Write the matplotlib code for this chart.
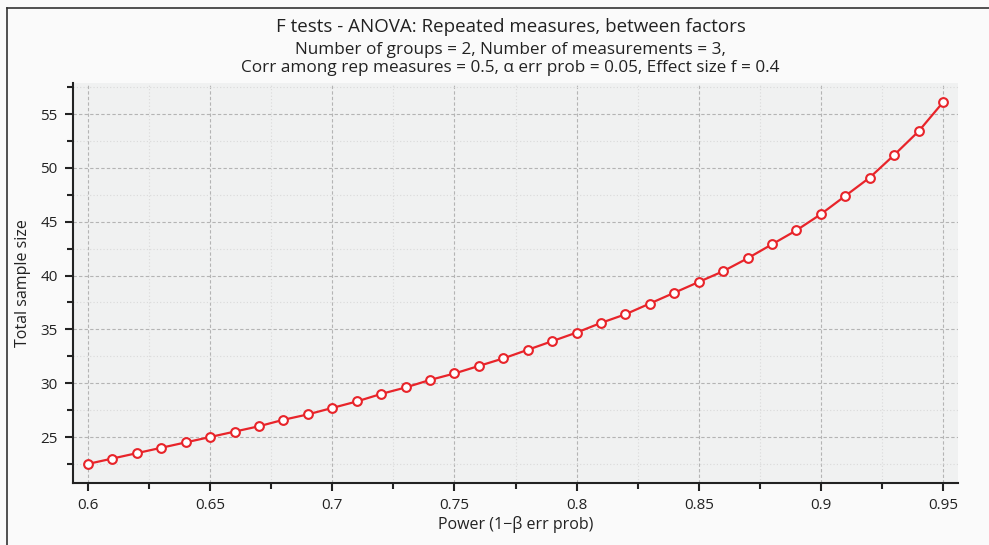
import matplotlib
matplotlib.use("Agg")
import matplotlib.pyplot as plt
from matplotlib.ticker import MultipleLocator
from matplotlib.lines import Line2D

power = [0.60, 0.61, 0.62, 0.63, 0.64, 0.65, 0.66, 0.67, 0.68, 0.69,
         0.70, 0.71, 0.72, 0.73, 0.74, 0.75, 0.76, 0.77, 0.78, 0.79,
         0.80, 0.81, 0.82, 0.83, 0.84, 0.85, 0.86, 0.87, 0.88, 0.89,
         0.90, 0.91, 0.92, 0.93, 0.94, 0.95]
total_n = [22.5, 23.0, 23.5, 24.0, 24.5, 25.0, 25.5, 26.0, 26.6, 27.1,
           27.7, 28.3, 29.0, 29.6, 30.3, 30.9, 31.6, 32.3, 33.1, 33.9,
           34.7, 35.6, 36.4, 37.4, 38.4, 39.4, 40.4, 41.6, 42.9, 44.2,
           45.7, 47.4, 49.1, 51.2, 53.4, 56.1]

title = "F tests - ANOVA: Repeated measures, between factors"
subtitle = ("Number of groups = 2, Number of measurements = 3,\n"
            "Corr among rep measures = 0.5, α err prob = 0.05, Effect size f = 0.4")

plt.rcParams['font.family'] = ['Open Sans', 'DejaVu Sans']

W, H = 989, 545
fig = plt.figure(figsize=(W / 100, H / 100), dpi=100, facecolor='#fafafa')
# axes box in pixels: left 73, right 958, top 83, bottom 483
ax = fig.add_axes([73 / W, 1 - 483 / H, (958 - 73) / W, (483 - 83) / H])
ax.set_facecolor('#f0f1f1')

ax.plot(power, total_n, color='#e8242a', lw=1.6, marker='o', ms=6.3,
        mfc='white', mec='#e8242a', mew=1.5, zorder=3)

ax.set_xlim(0.5939, 0.9561)
ax.set_ylim(20.73, 57.88)
ax.xaxis.set_major_locator(MultipleLocator(0.05))
ax.xaxis.set_minor_locator(MultipleLocator(0.025))
ax.yaxis.set_major_locator(MultipleLocator(5))
ax.yaxis.set_minor_locator(MultipleLocator(2.5))
ax.set_xticks([0.6, 0.65, 0.7, 0.75, 0.8, 0.85, 0.9, 0.95])
ax.set_xticklabels(['0.6', '0.65', '0.7', '0.75', '0.8', '0.85', '0.9', '0.95'])

ax.grid(which='major', color='#b4b4b4', ls=(0, (3, 2)), lw=0.8)
ax.grid(which='minor', color='#dadada', ls=(0, (1, 2)), lw=0.8)
ax.set_axisbelow(True)

for s in ['top', 'right']:
    ax.spines[s].set_visible(False)
for s in ['left', 'bottom']:
    ax.spines[s].set_color('#222222')
    ax.spines[s].set_linewidth(1.5)

ax.tick_params(which='major', direction='out', length=6, width=1.5,
               color='#222222', labelsize=11, labelcolor='#222222', pad=5)
ax.tick_params(which='minor', direction='out', length=4.5, width=1.5,
               color='#222222')

ax.set_xlabel("Power (1−β err prob)", fontsize=11.5, color='#222222', labelpad=2)
ax.set_ylabel("Total sample size", fontsize=11.5, color='#222222', labelpad=7)

cx = (73 + 958) / 2 / W
fig.text(cx - 5 / W, 1 - 27 / H, title, ha='center', va='center', fontsize=13.5,
         color='#222222')
fig.text(cx - 5 / W, 1 - 59 / H, subtitle, ha='center', va='center', fontsize=12.3,
         color='#222222', linespacing=1.1)

# window frame lines (left and top)
fig.add_artist(Line2D([7 / W, 7 / W], [0, 1 - 8 / H], transform=fig.transFigure,
                      color='#333333', lw=1.2))
fig.add_artist(Line2D([7 / W, 1], [1 - 8 / H, 1 - 8 / H], transform=fig.transFigure,
                      color='#333333', lw=1.2))

fig.savefig("out.png", dpi=100, facecolor=fig.get_facecolor())
